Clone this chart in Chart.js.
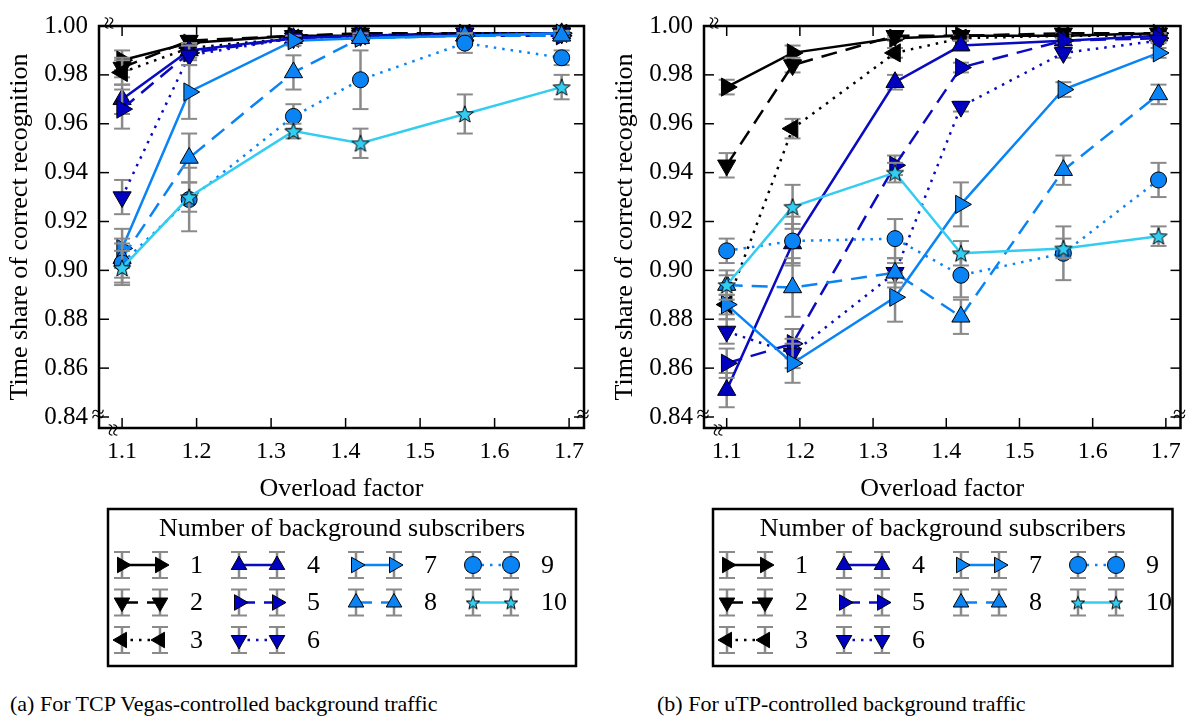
<!DOCTYPE html>
<html>
<head>
<meta charset="utf-8">
<script src="https://cdn.jsdelivr.net/npm/chart.js@4.4.0/dist/chart.umd.min.js"></script>
<style>
  body { margin:0; background:#fff; width:1192px; height:722px; overflow:hidden; position:relative; font-family:'Liberation Serif', serif; }
  .box { position:absolute; top:0; width:596px; height:680px; }
  .caption { position:absolute; top:691px; font-size:22px; line-height:26px; color:#000; white-space:nowrap; }
</style>
</head>
<body>
<div class="box" style="left:0"><canvas id="vegasChart" width="596" height="680"></canvas></div>
<div class="box" style="left:596px"><canvas id="utpChart" width="596" height="680"></canvas></div>
<div class="caption" style="left:10px">(a) For TCP Vegas-controlled background traffic</div>
<div class="caption" style="left:657px">(b) For uTP-controlled background traffic</div>
<script>
var FONT = "'Liberation Serif', 'Times New Roman', serif";

var overload = [1.1, 1.19, 1.33, 1.42, 1.56, 1.69];
var xTicks = [1.1, 1.2, 1.3, 1.4, 1.5, 1.6, 1.7];
var yTicks = [0.84, 0.86, 0.88, 0.90, 0.92, 0.94, 0.96, 0.98, 1.00];
var subscribers = ['1', '2', '3', '4', '5', '6', '7', '8', '9', '10'];

// (a) TCP Vegas background traffic
var vegas1  = [0.986, 0.993, 0.996, 0.996, 0.997, 0.997];
var vegas2  = [0.983, 0.994, 0.996, 0.997, 0.997, 0.997];
var vegas3  = [0.981, 0.991, 0.995, 0.996, 0.997, 0.997];
var vegas4  = [0.970, 0.990, 0.995, 0.996, 0.996, 0.997];
var vegas5  = [0.966, 0.989, 0.995, 0.996, 0.996, 0.996];
var vegas6  = [0.930, 0.988, 0.995, 0.996, 0.997, 0.997];
var vegas7  = [0.909, 0.973, 0.994, 0.995, 0.996, 0.997];
var vegas8  = [0.905, 0.946, 0.981, 0.995, 0.996, 0.996];
var vegas9  = [0.903, 0.929, 0.963, 0.978, 0.993, 0.987];
var vegas10 = [0.901, 0.930, 0.957, 0.952, 0.964, 0.975];

var vegasErr1  = [0.004, 0.002, 0.001, 0.001, 0.001, 0.001];
var vegasErr2  = [0.004, 0.002, 0.001, 0.001, 0.001, 0.001];
var vegasErr3  = [0.005, 0.002, 0.001, 0.001, 0.001, 0.001];
var vegasErr4  = [0.006, 0.003, 0.001, 0.001, 0.001, 0.001];
var vegasErr5  = [0.008, 0.003, 0.001, 0.001, 0.001, 0.001];
var vegasErr6  = [0.007, 0.004, 0.001, 0.001, 0.001, 0.001];
var vegasErr7  = [0.008, 0.011, 0.002, 0.001, 0.001, 0.001];
var vegasErr8  = [0.008, 0.010, 0.007, 0.002, 0.001, 0.002];
var vegasErr9  = [0.008, 0.013, 0.005, 0.012, 0.004, 0.003];
var vegasErr10 = [0.007, 0.006, 0.003, 0.006, 0.008, 0.005];

// (b) uTP background traffic
var utp1  = [0.975, 0.989, 0.995, 0.996, 0.996, 0.997];
var utp2  = [0.943, 0.984, 0.996, 0.996, 0.997, 0.997];
var utp3  = [0.886, 0.958, 0.989, 0.995, 0.996, 0.996];
var utp4  = [0.851, 0.911, 0.977, 0.992, 0.994, 0.996];
var utp5  = [0.862, 0.870, 0.943, 0.983, 0.994, 0.995];
var utp6  = [0.875, 0.866, 0.899, 0.967, 0.989, 0.994];
var utp7  = [0.886, 0.862, 0.889, 0.927, 0.974, 0.989];
var utp8  = [0.894, 0.893, 0.899, 0.881, 0.941, 0.972];
var utp9  = [0.908, 0.912, 0.913, 0.898, 0.907, 0.937];
var utp10 = [0.894, 0.926, 0.940, 0.907, 0.909, 0.914];

var utpErr1  = [0.003, 0.003, 0.001, 0.001, 0.001, 0.001];
var utpErr2  = [0.005, 0.003, 0.001, 0.001, 0.001, 0.001];
var utpErr3  = [0.004, 0.004, 0.002, 0.001, 0.001, 0.001];
var utpErr4  = [0.007, 0.008, 0.003, 0.002, 0.001, 0.001];
var utpErr5  = [0.006, 0.006, 0.004, 0.002, 0.001, 0.001];
var utpErr6  = [0.005, 0.006, 0.004, 0.002, 0.002, 0.001];
var utpErr7  = [0.006, 0.008, 0.010, 0.009, 0.003, 0.002];
var utpErr8  = [0.006, 0.012, 0.006, 0.007, 0.006, 0.004];
var utpErr9  = [0.005, 0.010, 0.008, 0.009, 0.011, 0.007];
var utpErr10 = [0.004, 0.009, 0.004, 0.005, 0.004, 0.004];

// series styles
var lineColor = ['#000000', '#000000', '#000000', '#0a0ac0', '#0a0ac0', '#0a0ac0', '#0a84f5', '#0a84f5', '#0a84f5', '#33cdf2'];
var fillColor = ['#000000', '#000000', '#000000', '#0000c0', '#0000c0', '#0000c0', '#0a84f5', '#0a84f5', '#0a84f5', '#33cdf2'];
var dashStyle = [[], [16, 9], [2.5, 6]];
var markerRot = [90, 180, 270, 0, 90, 180, 90, 0, 0, 0];

function makeStar(fill, size) {
  var c = document.createElement('canvas');
  c.width = size; c.height = size;
  var g = c.getContext('2d');
  var ro = size / 2 - 1, ri = ro * 0.42;
  g.beginPath();
  for (var k = 0; k < 10; k++) {
    var r = k % 2 ? ri : ro;
    var ang = -Math.PI / 2 + k * Math.PI / 5;
    var px = size / 2 + r * Math.cos(ang), py = size / 2 + 0.8 + r * Math.sin(ang);
    if (k) g.lineTo(px, py); else g.moveTo(px, py);
  }
  g.closePath();
  g.fillStyle = fill; g.fill();
  g.strokeStyle = '#000'; g.lineWidth = 1; g.stroke();
  return c;
}
var starBig = makeStar(fillColor[9], 20);
var starSmall = makeStar(fillColor[9], 16);

function markerStyle(i) {
  if (i == 9) return starBig;
  if (i == 8) return 'circle';
  return 'triangle';
}

function makeSets(means, errs) {
  var sets = [];
  for (var i = 0; i < means.length; i++) {
    var pts = [];
    for (var j = 0; j < overload.length; j++) pts.push({x: overload[j], y: means[i][j]});
    sets.push({
      label: subscribers[i],
      data: pts,
      errors: errs[i],
      order: means.length - i,   // later series on top, like the original
      borderColor: lineColor[i],
      borderWidth: 2.5,
      borderDash: dashStyle[i % 3],
      pointStyle: markerStyle(i),
      pointRotation: markerRot[i],
      pointRadius: i == 8 ? 8 : 10.5,
      pointBackgroundColor: fillColor[i],
      pointBorderColor: '#000',
      pointBorderWidth: 1,
      fill: false,
      tension: 0,
      clip: false
    });
  }
  return sets;
}

function line(ctx, x1, y1, x2, y2) {
  ctx.beginPath(); ctx.moveTo(x1, y1); ctx.lineTo(x2, y2); ctx.stroke();
}

function errBar(ctx, x, yTop, yBot) {
  ctx.strokeStyle = '#8a8a8a';
  ctx.lineWidth = 2.5;
  line(ctx, x, yTop, x, yBot);
  ctx.lineWidth = 2;
  line(ctx, x - 8, yTop, x + 8, yTop);
  line(ctx, x - 8, yBot, x + 8, yBot);
}

// grey error bars, drawn right before each series
var errorBars = {
  id: 'errorBars',
  beforeDatasetDraw: function(chart, args) {
    var ds = chart.data.datasets[args.index];
    var meta = args.meta, ys = chart.scales.y, ctx = chart.ctx;
    ctx.save();
    meta.data.forEach(function(pt, j) {
      var v = ds.data[j].y, e = ds.errors[j];
      errBar(ctx, pt.x, ys.getPixelForValue(v + e), ys.getPixelForValue(v - e));
    });
    ctx.restore();
  }
};

function squiggle(ctx, x, y, rot) {
  ctx.save();
  ctx.translate(x, y);
  ctx.rotate(rot);
  ctx.font = '24px ' + FONT;
  ctx.textAlign = 'center';
  ctx.textBaseline = 'middle';
  ctx.fillStyle = '#000';
  ctx.fillText('\u2248', 0, 0);
  ctx.restore();
}

// boxed frame with inward ticks
var frame = {
  id: 'frame',
  beforeDatasetsDraw: function(chart) {
    var ctx = chart.ctx, a = chart.chartArea, sx = chart.scales.x, sy = chart.scales.y;
    ctx.save();
    ctx.strokeStyle = '#000';
    ctx.lineWidth = 2.5;
    ctx.strokeRect(a.left, a.top, a.right - a.left, a.bottom - a.top);
    ctx.lineWidth = 1.5;
    sx.ticks.forEach(function(t) {
      var px = sx.getPixelForValue(t.value);
      line(ctx, px, a.bottom, px, a.bottom - 10);
      line(ctx, px, a.top, px, a.top + 10);
    });
    sy.ticks.forEach(function(t) {
      var py = sy.getPixelForValue(t.value);
      line(ctx, a.left, py, a.left + 10, py);
      line(ctx, a.right, py, a.right - 10, py);
    });
    var yb = sy.getPixelForValue(0.8405);
    squiggle(ctx, a.left - 1, yb, 0);
    squiggle(ctx, a.right - 1, yb, 0);
    squiggle(ctx, a.left + 12, a.bottom + 2, Math.PI / 2);
    squiggle(ctx, a.left + 8, a.top - 3, Math.PI / 2);
    ctx.restore();
  }
};

// boxed legend below the plot, laid out column by column
var boxLegend = {
  id: 'boxLegend',
  afterDraw: function(chart) {
    var ctx = chart.ctx, a = chart.chartArea;
    var left = a.left + 9, right = a.right - 8, top = 509, bottom = 666;
    ctx.save();
    ctx.strokeStyle = '#000';
    ctx.lineWidth = 2.5;
    ctx.strokeRect(left, top, right - left, bottom - top);
    ctx.fillStyle = '#000';
    ctx.font = '26px ' + FONT;
    ctx.textAlign = 'center';
    ctx.textBaseline = 'middle';
    ctx.fillText('Number of background subscribers', (left + right) / 2, top + 20);
    chart.data.datasets.forEach(function(ds, i) {
      var col = i < 6 ? Math.floor(i / 3) : (i < 8 ? 2 : 3);
      var row = i < 6 ? i % 3 : (i < 8 ? i - 6 : i - 8);
      var x1 = left + 14 + col * 117, x2 = x1 + 38, y = top + 56 + row * 37.5;
      errBar(ctx, x1, y - 13, y + 13);
      errBar(ctx, x2, y - 13, y + 13);
      ctx.strokeStyle = ds.borderColor;
      ctx.lineWidth = ds.borderWidth;
      ctx.setLineDash(ds.borderDash);
      line(ctx, x1, y, x2, y);
      ctx.setLineDash([]);
      [x1, x2].forEach(function(x) {
        if (i == 9) {
          ctx.drawImage(starSmall, x - 8, y - 8);
          return;
        }
        ctx.fillStyle = ds.pointBackgroundColor;
        ctx.strokeStyle = '#000';
        ctx.lineWidth = 1;
        Chart.helpers.drawPoint(ctx, {
          pointStyle: ds.pointStyle, rotation: ds.pointRotation,
          radius: i == 8 ? 8.5 : 9, borderWidth: 1
        }, x, y);
      });
      ctx.fillStyle = '#000';
      ctx.textAlign = 'left';
      ctx.font = '26px ' + FONT;
      ctx.fillText(ds.label, x1 + 68, y + 1);
    });
    ctx.restore();
  }
};

function makeOptions(yWidth, titlePad, padRight) {
  return {
    responsive: false,
    animation: false,
    events: [],
    layout: { padding: { top: 25, right: padRight, bottom: 175, left: 0 } },
    plugins: { legend: { display: false }, tooltip: { enabled: false } },
    scales: {
      x: {
        type: 'linear', min: 1.069, max: 1.72,
        grid: { display: false, drawTicks: false },
        border: { display: false },
        afterBuildTicks: function(s) { s.ticks = xTicks.map(function(v) { return {value: v}; }); },
        afterFit: function(s) { s.height = 77; },
        ticks: {
          color: '#000', font: { family: FONT, size: 24 }, padding: 9,
          maxRotation: 0, autoSkip: false,
          callback: function(v) { return v.toFixed(1); }
        },
        title: {
          display: true, text: 'Overload factor', color: '#000',
          font: { family: FONT, size: 26 }, padding: { top: 2, bottom: 0 }
        }
      },
      y: {
        type: 'linear', min: 0.8355, max: 1.0,
        grid: { display: false, drawTicks: false },
        border: { display: false },
        afterBuildTicks: function(s) { s.ticks = yTicks.map(function(v) { return {value: v}; }); },
        afterFit: function(s) { s.width = yWidth; },
        ticks: {
          color: '#000', font: { family: FONT, size: 25 }, padding: 11,
          autoSkip: false,
          callback: function(v) { return v.toFixed(2); }
        },
        title: {
          display: true, text: 'Time share of correct recognition', color: '#000',
          font: { family: FONT, size: 26 }, padding: { top: titlePad, bottom: 0 }
        }
      }
    }
  };
}

new Chart(document.getElementById('vegasChart'), {
  type: 'line',
  data: {
    datasets: makeSets(
      [vegas1, vegas2, vegas3, vegas4, vegas5, vegas6, vegas7, vegas8, vegas9, vegas10],
      [vegasErr1, vegasErr2, vegasErr3, vegasErr4, vegasErr5, vegasErr6, vegasErr7, vegasErr8, vegasErr9, vegasErr10])
  },
  options: makeOptions(99, 5, 12),
  plugins: [frame, errorBars, boxLegend]
});

new Chart(document.getElementById('utpChart'), {
  type: 'line',
  data: {
    datasets: makeSets(
      [utp1, utp2, utp3, utp4, utp5, utp6, utp7, utp8, utp9, utp10],
      [utpErr1, utpErr2, utpErr3, utpErr4, utpErr5, utpErr6, utpErr7, utpErr8, utpErr9, utpErr10])
  },
  options: makeOptions(108, 14, 4),
  plugins: [frame, errorBars, boxLegend]
});
</script>
</body>
</html>
